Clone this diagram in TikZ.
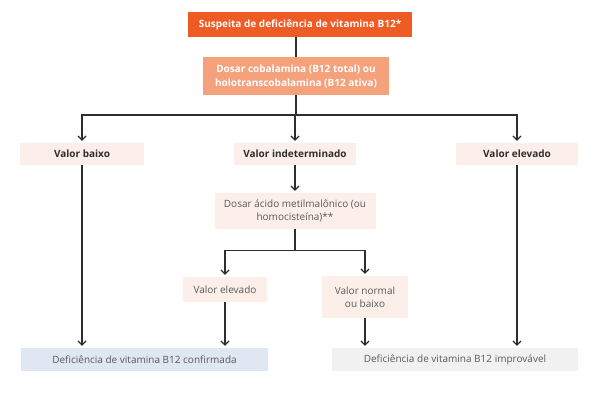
\documentclass[tikz,border=0pt]{standalone}
\usepackage{fontspec}
\setmainfont{Open Sans}
\usetikzlibrary{arrows.meta}
\definecolor{topred}{HTML}{EE5B25}
\definecolor{salmon}{HTML}{F5A27C}
\definecolor{blush}{HTML}{FCEEE8}
\definecolor{paleblue}{HTML}{DFE7F3}
\definecolor{palegray}{HTML}{F1F1F1}
\definecolor{darktext}{HTML}{2E2E2E}
\definecolor{softtext}{HTML}{5A5A5A}
\begin{document}
\begin{tikzpicture}[x=1pt,y=-1pt]
\tikzset{
    box/.style={inner sep=0pt, align=center, font=\fontsize{10}{13}\selectfont},
    head/.style={box, fill=topred, text=white, font=\fontsize{10}{13}\selectfont\bfseries},
    test/.style={box, fill=salmon, text=white, font=\fontsize{10}{14}\selectfont\bfseries},
    result/.style={box, fill=blush, text=darktext, font=\fontsize{10}{13}\selectfont\bfseries},
    step box/.style={box, fill=blush, text=softtext},
    link/.style={line width=1.2pt, color=darktext},
    arrow/.style={link, -{Straight Barb[length=4pt,width=8pt]}, shorten >=2pt}}
\useasboundingbox[fill=white] (0,0) rectangle (600,400);

% top of the chart
\node[head, minimum width=224, minimum height=25] (susp) at (300,24.5) {Suspeita de deficiência de vitamina B12*};
\node[test, minimum width=186, minimum height=38] (dosar) at (296,76) {Dosar cobalamina (B12 total) ou\\holotranscobalamina (B12 ativa)};

% first level
\node[result, minimum width=124, minimum height=22] (baixo) at (82,154) {Valor baixo};
\node[result, minimum width=122, minimum height=22] (indet) at (295,154) {Valor indeterminado};
\node[result, minimum width=122, minimum height=22] (elev) at (517,154) {Valor elevado};

% second level
\node[step box, minimum width=161, minimum height=36] (acido) at (295,211) {Dosar ácido metilmalônico (ou\\homocisteína)**};
\node[step box, minimum width=84, minimum height=25] (elevii) at (225,289.5) {Valor elevado};
\node[step box, minimum width=86, minimum height=42] (normal) at (365,297) {Valor normal\\ou baixo};

% outcomes
\node[box, fill=paleblue, text=softtext, minimum width=247, minimum height=23] (conf) at (144.5,359.5) {Deficiência de vitamina B12 confirmada};
\node[box, fill=palegray, text=softtext, minimum width=246, minimum height=23] (impr) at (455,359.5) {Deficiência de vitamina B12 improvável};

\coordinate (ja) at (296,115);
\coordinate (jb) at (295,250.5);

\draw[link] (dosar.north |- susp.south) -- (dosar.north);
\draw[link] (dosar.south) -- (ja);
\foreach \t in {baixo,indet,elev}{
    \draw[arrow] (ja) -| (\t.north);
}
\draw[arrow] (indet.south) -- (acido.north);
\draw[link] (acido.south) -- (jb);
\foreach \t in {elevii,normal}{
    \draw[arrow] (jb) -| (\t.north);
}
\draw[arrow] (baixo.south) -- (baixo.south |- conf.north);
\draw[arrow] (elevii.south) -- (elevii.south |- conf.north);
\draw[arrow] (normal.south) -- (normal.south |- impr.north);
\draw[arrow] (elev.south) -- (elev.south |- impr.north);
\end{tikzpicture}
\end{document}
